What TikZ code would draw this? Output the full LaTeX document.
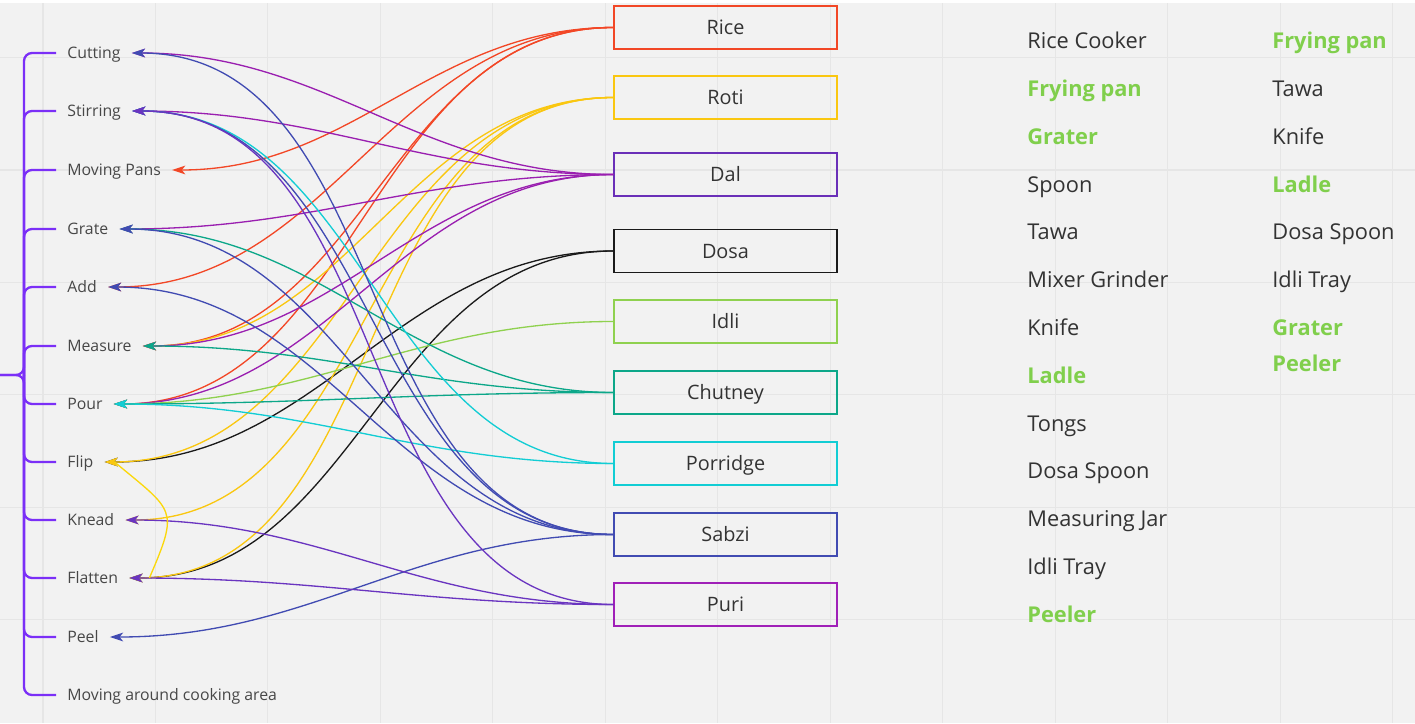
\documentclass[tikz,border=0pt]{standalone}
\usepackage{fontspec}
\setmainfont{Open Sans}
\usetikzlibrary{arrows.meta}

\definecolor{bgcol}{HTML}{F2F2F2}
\definecolor{gridcol}{HTML}{E6E6E6}
\definecolor{txtcol}{HTML}{333333}
\definecolor{bracecol}{HTML}{7B2FF7}
\definecolor{ricecol}{HTML}{F24726}
\definecolor{roticol}{HTML}{FAC710}
\definecolor{dalbox}{HTML}{6A2FB8}
\definecolor{dalcol}{HTML}{9A1FB0}
\definecolor{dosacol}{HTML}{1A1A1A}
\definecolor{idlicol}{HTML}{8FD14F}
\definecolor{chutcol}{HTML}{0CA789}
\definecolor{porrcol}{HTML}{12CDD4}
\definecolor{sabzicol}{HTML}{414BB2}
\definecolor{puribox}{HTML}{A020B8}
\definecolor{puricol}{HTML}{6A35C0}
\definecolor{toolgreen}{HTML}{80CF4C}

\begin{document}
\begin{tikzpicture}[x=0.02cm,y=-0.02cm,
  dish/.style={draw, line width=1.1pt, minimum width=4.45cm, minimum height=0.86cm, inner sep=0pt,
    text=txtcol, font=\fontsize{11.3}{13}\selectfont, text height=8pt, text depth=0pt},
  task/.style={anchor=west, inner xsep=0.22cm, inner ysep=0pt, text=txtcol!90,
    font=\fontsize{9}{10}\selectfont, text height=6.4pt, text depth=0pt},
  tool/.style={anchor=west, inner sep=0pt, text=txtcol, font=\fontsize{12.4}{14}\selectfont,
    text height=8.8pt, text depth=0pt},
  keytool/.style={tool, text=toolgreen, font=\fontsize{12.4}{14}\selectfont\bfseries},
  link/.style={line width=0.75pt, out=180, in=0, -{Stealth[length=7.5pt,width=5pt,inset=2pt]}},
  brace/.style={bracecol, line width=1.3pt, rounded corners=0.16cm}]
\useasboundingbox (0,0) rectangle (1415,723);
% canvas
\fill[bgcol] (0,0) rectangle (1415,723);
\fill[white] (0,0) rectangle (1415,3);
\draw[gridcol, line width=0.6pt, shift={(43,57.5)}, step=2.25cm] (-43,-54) grid (1372,665.5);

% tasks on the left
\node[task] (cutting) at (56,53) {Cutting};
\node[task] (stirring) at (56,111) {Stirring};
\node[task] (movpans) at (56,170) {Moving Pans};
\node[task] (grate) at (56,229) {Grate};
\node[task] (add) at (56,287) {Add};
\node[task] (measure) at (56,346) {Measure};
\node[task] (pour) at (56,404) {Pour};
\node[task] (flip) at (56,462) {Flip};
\node[task] (knead) at (56,520) {Knead};
\node[task] (flatten) at (56,578) {Flatten};
\node[task] (peel) at (56,637) {Peel};
\node[task] (movearea) at (56,695) {Moving around cooking area};

% the bracket
\coordinate (tail) at (0,375);
\coordinate (hub) at (24,375);
\draw[brace] (tail) -| (24,350);
\draw[brace] (tail) -| (24,400);
\draw[brace] (hub) |- (cutting.west);
\draw[brace] (hub) |- (stirring.west);
\draw[brace] (hub) |- (movpans.west);
\draw[brace] (hub) |- (grate.west);
\draw[brace] (hub) |- (add.west);
\draw[brace] (hub) |- (measure.west);
\draw[brace] (hub) |- (pour.west);
\draw[brace] (hub) |- (flip.west);
\draw[brace] (hub) |- (knead.west);
\draw[brace] (hub) |- (flatten.west);
\draw[brace] (hub) |- (peel.west);
\draw[brace] (hub) |- (movearea.west);

% dishes
\node[dish, ricecol] (rice) at (725.5,27.5) {\color{txtcol}Rice};
\node[dish, roticol] (roti) at (725.5,97.5) {\color{txtcol}Roti};
\node[dish, dalbox] (dal) at (725.5,174.5) {\color{txtcol}Dal};
\node[dish, dosacol] (dosa) at (725.5,251) {\color{txtcol}Dosa};
\node[dish, idlicol] (idli) at (725.5,321.5) {\color{txtcol}Idli};
\node[dish, chutcol] (chutney) at (725.5,392.5) {\color{txtcol}Chutney};
\node[dish, porrcol] (porridge) at (725.5,463.5) {\color{txtcol}Porridge};
\node[dish, sabzicol] (sabzi) at (725.5,534.5) {\color{txtcol}Sabzi};
\node[dish, puribox] (puri) at (725.5,604.5) {\color{txtcol}Puri};

% links dish -> task
\draw[link, ricecol] (rice.west) to (movpans.east);
\draw[link, ricecol] (rice.west) to (add.east);
\draw[link, ricecol] (rice.west) to (measure.east);
\draw[link, ricecol] (rice.west) to (pour.east);
\draw[link, dosacol] (dosa.west) to (flip.east);
\draw[link, dosacol] (dosa.west) to (flatten.east);
\draw[link, roticol] (roti.west) to (measure.east);
\draw[link, roticol] (roti.west) to (flip.east);
\draw[link, roticol] (roti.west) to (knead.east);
\draw[link, roticol] (roti.west) to (flatten.east);
\draw[link, dalcol] (dal.west) to (cutting.east);
\draw[link, dalcol] (dal.west) to (stirring.east);
\draw[link, dalcol] (dal.west) to (grate.east);
\draw[link, dalcol] (dal.west) to (measure.east);
\draw[link, dalcol] (dal.west) to (pour.east);
\draw[link, idlicol] (idli.west) to (pour.east);
\draw[link, chutcol] (chutney.west) to (grate.east);
\draw[link, chutcol] (chutney.west) to (measure.east);
\draw[link, chutcol] (chutney.west) to (pour.east);
\draw[link, porrcol] (porridge.west) to (stirring.east);
\draw[link, porrcol] (porridge.west) to (pour.east);
\draw[link, sabzicol] (sabzi.west) to (cutting.east);
\draw[link, sabzicol] (sabzi.west) to (stirring.east);
\draw[link, sabzicol] (sabzi.west) to (grate.east);
\draw[link, sabzicol] (sabzi.west) to (add.east);
\draw[link, sabzicol] (sabzi.west) to (peel.east);
\draw[link, puricol] (puri.west) to (stirring.east);
\draw[link, puricol] (puri.west) to (knead.east);
\draw[link, puricol] (puri.west) to (flatten.east);
\draw[roticol!70!yellow, line width=0.75pt] ([xshift=0.4cm]flatten.east) .. controls +(30,-70) and +(60,50) .. ([xshift=0.2cm]flip.east);

% utensils, first column
\node[tool] (t1) at (1027,41) {Rice Cooker};
\node[keytool] (t2) at (1027,89) {Frying pan};
\node[keytool] (t3) at (1027,137) {Grater};
\node[tool] (t4) at (1027,185) {Spoon};
\node[tool] (t5) at (1027,232) {Tawa};
\node[tool] (t6) at (1027,280) {Mixer Grinder};
\node[tool] (t7) at (1027,328) {Knife};
\node[keytool] (t8) at (1027,376) {Ladle};
\node[tool] (t9) at (1027,424) {Tongs};
\node[tool] (t10) at (1027,471) {Dosa Spoon};
\node[tool] (t11) at (1027,519) {Measuring Jar};
\node[tool] (t12) at (1027,567) {Idli Tray};
\node[keytool] (t13) at (1027,615) {Peeler};
% utensils, second column
\node[keytool] (s1) at (1272,41) {Frying pan};
\node[tool] (s2) at (1272,89) {Tawa};
\node[tool] (s3) at (1272,137) {Knife};
\node[keytool] (s4) at (1272,185) {Ladle};
\node[tool] (s5) at (1272,232) {Dosa Spoon};
\node[tool] (s6) at (1272,280) {Idli Tray};
\node[keytool] (s7) at (1272,328) {Grater};
\node[keytool] (s8) at (1272,364) {Peeler};
\end{tikzpicture}
\end{document}
